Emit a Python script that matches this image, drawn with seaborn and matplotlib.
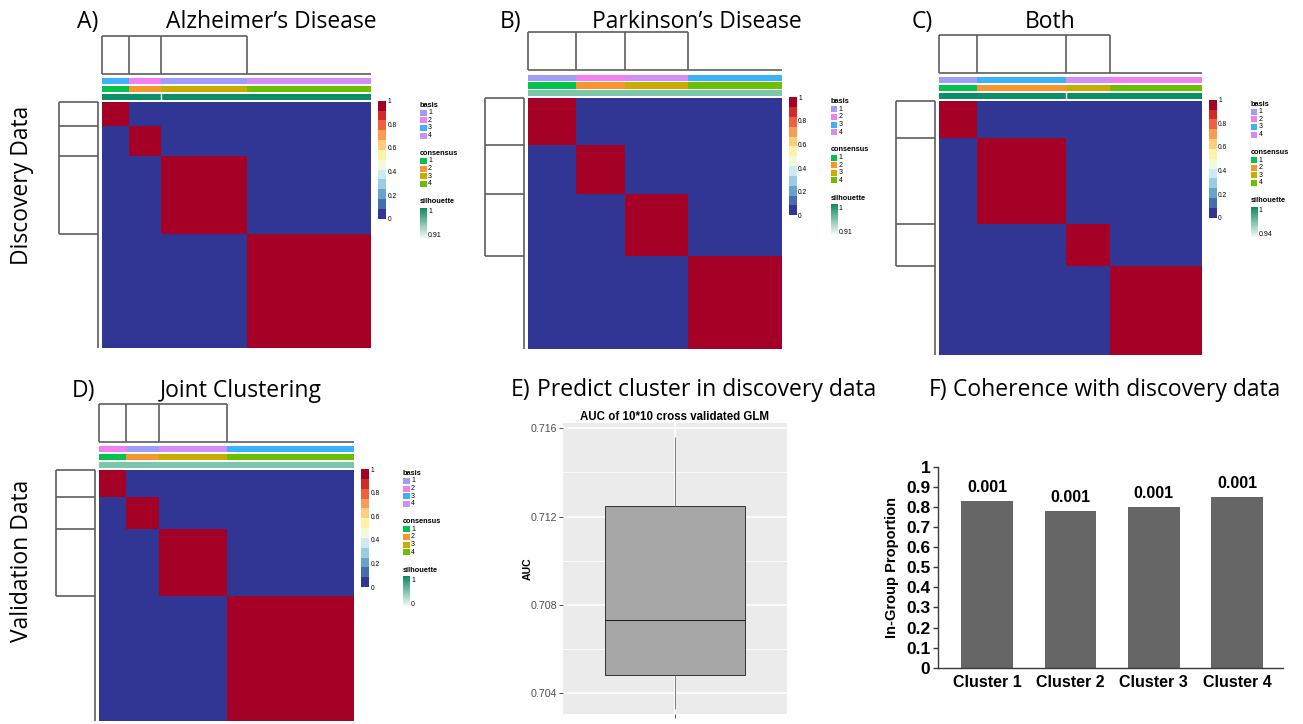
import numpy as np
import matplotlib
matplotlib.use("Agg")
import matplotlib.pyplot as plt
from matplotlib.colors import ListedColormap, LinearSegmentedColormap
from matplotlib.patches import Rectangle
from matplotlib.ticker import FormatStrFormatter
import seaborn as sns

# ---------------- data ----------------
# consensus-map panels: cluster sizes in displayed order, basis / consensus labels
A_sizes = [27, 32, 86, 124]
A_basis = [3, 2, 1, 4]
A_consensus = [1, 2, 3, 4]
A_sil_min = "0.91"
A_sil_breaks = [2]

B_sizes = [47, 49, 63, 93]
B_basis = [1, 2, 4, 3]
B_consensus = [1, 2, 3, 4]
B_sil_min = "0.91"
B_sil_breaks = []

C_sizes = [38, 89, 43, 92]
C_basis = [1, 3, 4, 2]
C_consensus = [1, 2, 3, 4]
C_sil_min = "0.94"
C_sil_breaks = [2]

D_sizes = [27, 33, 68, 127]
D_basis = [2, 1, 4, 3]
D_consensus = [1, 2, 3, 4]
D_sil_min = "0"
D_sil_breaks = []

cbar_ticks = [0, 0.2, 0.4, 0.6, 0.8, 1]
cbar_labels = ["0", "0.2", "0.4", "0.6", "0.8", "1"]

# panel E: AUC summary (min, Q1, median, Q3, max)
auc_values = [0.70329, 0.70483, 0.70732, 0.71248, 0.71562]
auc_ticks = [0.704, 0.708, 0.712, 0.716]

# panel F
clusters = ["Cluster 1", "Cluster 2", "Cluster 3", "Cluster 4"]
ingroup = [0.83, 0.78, 0.80, 0.85]
pvals = ["0.001", "0.001", "0.001", "0.001"]
f_ticks = [0, 0.1, 0.2, 0.3, 0.4, 0.5, 0.6, 0.7, 0.8, 0.9, 1]
f_ticklabels = ["0", "0.1", "0.2", "0.3", "0.4", "0.5", "0.6", "0.7", "0.8", "0.9", "1"]

# ---------------- style ----------------
plt.rcParams["font.family"] = ["Liberation Sans", "DejaVu Sans"]
TITLE_FONT = ["Open Sans", "DejaVu Sans"]

basis_col = {1: "#9E9EF8", 2: "#F47FF0", 3: "#3AB2F7", 4: "#D38DF7"}
cons_col = {1: "#05C24F", 2: "#F5962F", 3: "#C8AC00", 4: "#6CBF00"}
heat_cmap = ListedColormap(plt.get_cmap("RdYlBu_r")(np.linspace(0, 1, 12)))
sil_cmap = LinearSegmentedColormap.from_list("sil", ["#F4F9F6", "#0E8A62"])
dcol = "#5E5E5E"

W, H = 1303, 724
fig = plt.figure(figsize=(W / 100, H / 100), dpi=100)


def px_ax(x0, y0, x1, y1, **kw):
    return fig.add_axes([x0 / W, 1 - y1 / H, (x1 - x0) / W, (y1 - y0) / H], **kw)


overlay = px_ax(0, 0, W, H, zorder=10)
overlay.set_xlim(0, W)
overlay.set_ylim(H, 0)
overlay.axis("off")


def consensus_panel(hx0, hy0, hx1, hy1, sizes, basis, consensus, sil_color,
                    sil_breaks, sil_min):
    n = sum(sizes)
    labels = np.repeat(np.arange(len(sizes)), sizes)
    M = (labels[:, None] == labels[None, :]).astype(float)
    cs = np.concatenate([[0], np.cumsum(sizes)])

    axh = px_ax(hx0, hy0, hx1, hy1)
    cax = px_ax(hx1 + 7, hy0 - 1, hx1 + 15, hy0 + 117)
    sns.heatmap(M, ax=axh, cmap=heat_cmap, vmin=0, vmax=1, cbar_ax=cax,
                xticklabels=False, yticklabels=False, rasterized=True)
    axh.tick_params(length=0)
    cbar = axh.collections[0].colorbar
    cbar.set_ticks(cbar_ticks)
    cbar.set_ticklabels(cbar_labels)
    cbar.outline.set_visible(False)
    cax.tick_params(length=0, labelsize=4.8, pad=1)

    # annotation tracks
    axa = px_ax(hx0, hy0 - 24.5, hx1, hy0 - 1)
    left = cs[:-1]
    axa.barh([0] * len(sizes), sizes, left=left, height=0.78,
             color=[basis_col[b] for b in basis])
    axa.barh([1] * len(sizes), sizes, left=left, height=0.78,
             color=[cons_col[c] for c in consensus])
    axa.barh([2], [n], left=[0], height=0.78, color=sil_color)
    for b in sil_breaks:
        axa.plot([cs[b], cs[b]], [1.61, 2.39], color="white", lw=1.0)
    axa.set_xlim(0, n)
    axa.set_ylim(2.5, -0.5)
    axa.axis("off")

    # top dendrogram
    axt = px_ax(hx0, hy0 - 66, hx1, hy0 - 28)
    kw = dict(color=dcol, lw=1.2, clip_on=False, solid_capstyle="butt")
    axt.plot([0, n], [0, 0], **kw)
    for b in cs[:4]:
        axt.plot([b, b], [0, 1], **kw)
    axt.plot([0, cs[3]], [1, 1], **kw)
    axt.set_xlim(0, n)
    axt.set_ylim(0, 1)
    axt.axis("off")

    # left dendrogram
    axl = px_ax(hx0 - 43, hy0, hx0 - 4, hy1)
    axl.plot([1, 1], [0, n], **kw)
    for b in cs[:4]:
        axl.plot([0, 1], [b, b], **kw)
    axl.plot([0, 0], [0, cs[3]], **kw)
    axl.set_xlim(0, 1)
    axl.set_ylim(n, 0)
    axl.axis("off")

    # legends
    lx = hx1 + 49
    fs_t, fs_l = 5.3, 5.0
    overlay.text(lx, hy0 + 3.5, "basis", fontsize=fs_t, fontweight="bold", va="center")
    for i in range(4):
        y = hy0 + 11 + i * 7.6
        overlay.add_patch(Rectangle((lx, y - 3), 6.6, 6, color=basis_col[i + 1], lw=0))
        overlay.text(lx + 8, y, str(i + 1), fontsize=fs_l, va="center")
    overlay.text(lx, hy0 + 51.5, "consensus", fontsize=fs_t, fontweight="bold", va="center")
    for i in range(4):
        y = hy0 + 59.3 + i * 7.6
        overlay.add_patch(Rectangle((lx, y - 3), 6.6, 6, color=cons_col[i + 1], lw=0))
        overlay.text(lx + 8, y, str(i + 1), fontsize=fs_l, va="center")
    overlay.text(lx, hy0 + 100, "silhouette", fontsize=fs_t, fontweight="bold", va="center")
    gax = px_ax(lx, hy0 + 106, lx + 6.6, hy0 + 136)
    gax.imshow(np.linspace(1, 0, 64)[:, None], cmap=sil_cmap, aspect="auto",
               vmin=0, vmax=1)
    gax.axis("off")
    overlay.text(lx + 8, hy0 + 110, "1", fontsize=fs_l, va="center")
    overlay.text(lx + 8, hy0 + 134, sil_min, fontsize=fs_l, va="center")


consensus_panel(101.7, 101.7, 371, 348, A_sizes, A_basis, A_consensus,
                "#0B8F66", A_sil_breaks, A_sil_min)
consensus_panel(528.3, 98.3, 781.7, 349, B_sizes, B_basis, B_consensus,
                "#7CC6AC", B_sil_breaks, B_sil_min)
consensus_panel(939.3, 100.7, 1201.7, 355, C_sizes, C_basis, C_consensus,
                "#0B8F66", C_sil_breaks, C_sil_min)
consensus_panel(99.3, 470, 354, 721, D_sizes, D_basis, D_consensus,
                "#7CC6AC", D_sil_breaks, D_sil_min)

# ---------------- panel E: boxplot ----------------
axE = px_ax(563, 423, 787, 714)
axE.set_facecolor("#EBEBEB")
sns.boxplot(y=auc_values, ax=axE, color="#A6A6A6", saturation=1, width=0.75,
            linecolor="#333333", linewidth=0.7, showcaps=False,
            whiskerprops={"color": "#7F7F7F"}, medianprops={"color": "#1A1A1A"})
axE.set_xlim(-0.6, 0.6)
axE.set_ylim(0.70306, 0.71624)
axE.set_yticks(auc_ticks)
axE.set_yticks([0.706, 0.710, 0.714], minor=True)
axE.yaxis.set_major_formatter(FormatStrFormatter("%.3f"))
axE.set_xticks([0])
axE.set_xticklabels([""])
axE.grid(which="major", color="white", lw=1.1)
axE.grid(which="minor", axis="y", color="white", lw=0.55)
axE.set_axisbelow(True)
for s in axE.spines.values():
    s.set_visible(False)
axE.tick_params(axis="both", which="major", length=2.7, width=0.6, color="#333333",
                labelsize=7.7, labelcolor="#4D4D4D", pad=1.5)
axE.tick_params(axis="y", which="minor", length=0)
axE.set_xlabel("")
axE.set_ylabel("AUC", fontsize=7.6, fontweight="bold")
axE.yaxis.set_label_coords(-0.135, 0.5)
axE.set_title("AUC of 10*10 cross validated GLM", fontsize=8.3, fontweight="bold", pad=2.5)

# ---------------- panel F: bar chart ----------------
axF = px_ax(938, 466.7, 1283, 667.7)
sns.barplot(x=clusters, y=ingroup, ax=axF, color="#666666", saturation=1, width=0.62)
axF.set_xlim(-0.59, 3.55)
axF.set_ylim(0, 1)
axF.bar_label(axF.containers[0], labels=pvals, padding=4.5, fontsize=11.5,
              fontweight="bold")
axF.set_yticks(f_ticks)
axF.set_yticklabels(f_ticklabels)
for s in ["top", "right"]:
    axF.spines[s].set_visible(False)
for s in ["left", "bottom"]:
    axF.spines[s].set_color("#3A3A3A")
    axF.spines[s].set_linewidth(1.0)
axF.tick_params(axis="y", length=3.5, width=1, color="#3A3A3A", labelsize=12.5, pad=2)
axF.tick_params(axis="x", length=0, labelsize=11.5, pad=5)
for lab in axF.get_xticklabels() + axF.get_yticklabels():
    lab.set_fontweight("bold")
axF.set_xlabel("")
axF.set_ylabel("In-Group Proportion", fontsize=10.5, fontweight="bold")
axF.yaxis.set_label_coords(-0.113, 0.5)

# ---------------- titles ----------------
tk = dict(family=TITLE_FONT, fontsize=16.5, va="baseline", ha="left")
overlay.text(77, 28.3, "A)", **tk)
overlay.text(166, 28.3, "Alzheimer\u2019s Disease", **tk)
overlay.text(500, 28.3, "B)", **tk)
overlay.text(592, 28.3, "Parkinson\u2019s Disease", **tk)
overlay.text(912, 28.3, "C)", **tk)
overlay.text(1025, 28.3, "Both", **tk)
overlay.text(72, 397, "D)", **tk)
overlay.text(160, 397, "Joint Clustering", **tk)
overlay.text(511, 396, "E)", **tk)
overlay.text(537, 396, "Predict cluster in discovery data", **tk)
overlay.text(929, 396, "F)", **tk)
overlay.text(953, 396, "Coherence with discovery data", **tk)

side = dict(family=TITLE_FONT, fontsize=16.5, rotation=90, ha="center", va="center")
overlay.text(22, 185, "Discovery Data", **side)
overlay.text(22, 561, "Validation Data", **side)

fig.savefig("out.png", dpi=100)
